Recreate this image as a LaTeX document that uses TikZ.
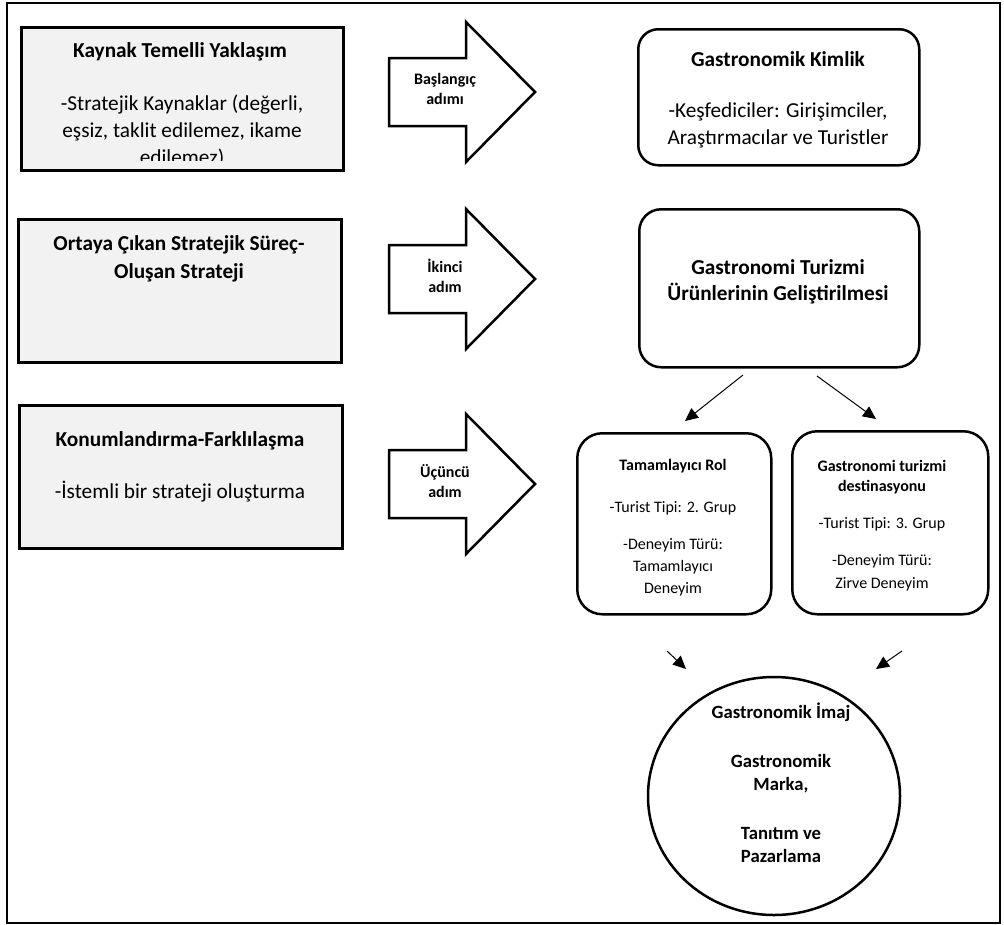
\documentclass[tikz,border=0pt]{standalone}
\usepackage{fontspec}
\setmainfont{Carlito}
\usetikzlibrary{arrows.meta,shapes.geometric}
\definecolor{boxgray}{HTML}{F2F2F2}
% block arrow: body from x=389 to 466, tip at 535; #1 = centre line y, #2 = node name, #3 = label
\newcommand\stepshape[3]{%
  \draw[line width=2.5pt, line join=miter, fill=white]
    (389,#1-34) -- (466,#1-34) -- (466,#1-70) -- (535,#1) -- (466,#1+70)
    -- (466,#1+34) -- (389,#1+34) -- cycle;
  \node[steptext] (#2) at (445,#1-3) {#3};}
\begin{document}
\begin{tikzpicture}[x=1pt,y=-1pt,
  graybox/.style={draw=black, line width=2.5pt, fill=boxgray, inner sep=0pt, anchor=north west},
  roundbox/.style={draw=black, line width=2.5pt, fill=white, inner sep=0pt, anchor=north west},
  bigbold/.style={font=\fontsize{21.3}{27}\selectfont\bfseries, align=center, inner sep=0pt, anchor=base},
  bigreg/.style={font=\fontsize{21.3}{27}\selectfont, align=center, inner sep=0pt, anchor=base},
  smallbold/.style={font=\fontsize{16}{20}\selectfont\bfseries, align=center, inner sep=0pt, anchor=base},
  smallreg/.style={font=\fontsize{16}{22}\selectfont, align=center, inner sep=0pt, anchor=base},
  circbold/.style={font=\fontsize{18.7}{23}\selectfont\bfseries, align=center, inner sep=0pt, anchor=base},
  steptext/.style={font=\fontsize{16}{20}\selectfont\bfseries, align=center, inner sep=0pt},
  link/.style={line width=1pt, -{Triangle[length=13pt,width=12pt]}}
]
\useasboundingbox (0,0) rectangle (1004,924);
\draw[line width=2pt] (7,3) rectangle (1000,923);

% left column: strategy boxes
\node[graybox, minimum width=322pt, minimum height=143pt] (kaynak) at (20,26) {};
\node[graybox, minimum width=323pt, minimum height=143pt] (ortaya) at (17,218) {};
\node[graybox, minimum width=323pt, minimum height=143pt] (konum) at (18,404) {};

% multi-line texts are placed by the baseline of their last line
\node[bigbold] (kaynakT) at (180,57) {Kaynak Temelli Yaklaşım};
\begin{scope}
  \clip (20,26) rectangle (342,160);
  \node[bigreg] (kaynakB) at (182,164) {-Stratejik Kaynaklar (değerli,\\eşsiz, taklit edilemez, ikame\\edilemez)};
\end{scope}
\node[bigbold, font=\fontsize{21.3}{28}\selectfont\bfseries] (ortayaT) at (179,278) {Ortaya Çıkan Stratejik Süreç-\\Oluşan Strateji};
\node[bigbold] (konumT) at (180,446) {Konumlandırma-Farklılaşma};
\node[bigreg] (konumB) at (180,498) {-İstemli bir strateji oluşturma};

% step arrows
\stepshape{92}{s1}{Başlangıç\\adımı}
\stepshape{279}{s2}{İkinci\\adım}
\stepshape{484}{s3}{Üçüncü\\adım}

% right column
\node[roundbox, rounded corners=20pt, minimum width=281pt, minimum height=136pt] (kimlik) at (637,28) {};
\node[bigbold] (kimlikT) at (778,66) {Gastronomik Kimlik};
\node[bigreg] (kimlikB) at (778,144) {-Keşfediciler: Girişimciler,\\Araştırmacılar ve Turistler};

\node[roundbox, rounded corners=22pt, minimum width=280pt, minimum height=158pt] (urun) at (638,208) {};
\node[bigbold, font=\fontsize{21.3}{26}\selectfont\bfseries] (urunT) at (778,300) {Gastronomi Turizmi\\Ürünlerinin Geliştirilmesi};

\node[roundbox, rounded corners=25pt, minimum width=194pt, minimum height=181pt] (tamam) at (576,432) {};
\node[roundbox, rounded corners=25pt, minimum width=196pt, minimum height=183pt] (dest) at (791,430) {};

\node[smallbold] (tamamT) at (673,470) {Tamamlayıcı Rol};
\node[smallreg] (tamamA) at (673,512) {-Turist Tipi: 2. Grup};
\begin{scope}
  \clip (576,525) rectangle (770,596);
  \node[smallreg] (tamamB) at (673,593) {-Deneyim Türü:\\Tamamlayıcı\\Deneyim};
\end{scope}

\node[smallbold] (destT) at (882,491) {Gastronomi turizmi\\destinasyonu};
\node[smallreg] (destA) at (882,528) {-Turist Tipi: 3. Grup};
\begin{scope}
  \clip (791,540) rectangle (987,596);
  \node[smallreg, font=\fontsize{16}{23}\selectfont] (destB) at (882,588) {-Deneyim Türü:\\Zirve Deneyim};
\end{scope}

\node[ellipse, draw=black, line width=2.5pt, minimum width=252pt, minimum height=238pt, inner sep=0pt] (imaj) at (774,796) {};
\node[circbold] (imajA) at (781,718) {Gastronomik İmaj};
\node[circbold] (imajB) at (781,790) {Gastronomik\\Marka,};
\node[circbold] (imajC) at (781,862) {Tanıtım ve\\Pazarlama};

% connectors
\coordinate (u1) at (743,375);
\coordinate (u2) at (685,421);
\coordinate (u3) at (817,376);
\coordinate (u4) at (876,419);
\coordinate (t1) at (667,651);
\coordinate (t2) at (686,669);
\coordinate (d1) at (902,651);
\coordinate (d2) at (876,669);
\draw[link] (u1) -- (u2);
\draw[link] (u3) -- (u4);
\draw[link] (t1) -- (t2);
\draw[link] (d1) -- (d2);
\end{tikzpicture}
\end{document}
